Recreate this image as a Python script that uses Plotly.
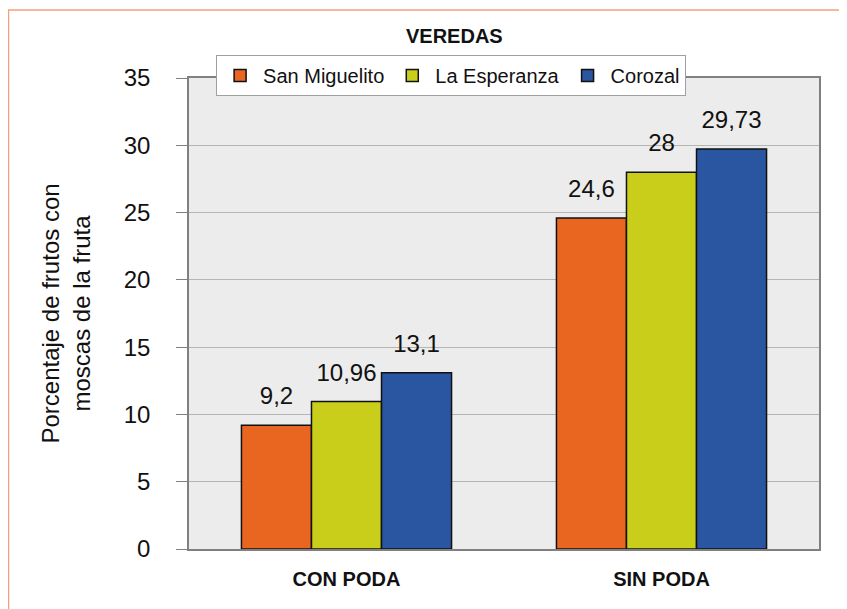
import plotly.graph_objects as go

categories = ["CON PODA", "SIN PODA"]
series_names = ["San Miguelito", "La Esperanza", "Corozal"]
san_miguelito = [9.2, 24.6]
la_esperanza = [10.96, 28]
corozal = [13.1, 29.73]
labels_san_miguelito = ["9,2", "24,6"]
labels_la_esperanza = ["10,96", "28"]
labels_corozal = ["13,1", "29,73"]
y_ticks = [0, 5, 10, 15, 20, 25, 30, 35]

colors = ["#E8661F", "#C9CE1A", "#2A55A0"]
values = [san_miguelito, la_esperanza, corozal]
labels = [labels_san_miguelito, labels_la_esperanza, labels_corozal]

FONT = "Liberation Sans, Arial, sans-serif"

fig = go.Figure()
for i, (name, vals, col) in enumerate(zip(series_names, values, colors)):
    fig.add_trace(go.Bar(
        name=name, x=categories, y=vals,
        offsetgroup=str(i), alignmentgroup="g",
        marker=dict(color=col, line=dict(color="#111111", width=1.5)),
    ))
for i, (vals, labs) in enumerate(zip(values, labels)):
    fig.add_trace(go.Scatter(
        x=categories, y=vals, text=labs, mode="markers+text",
        offsetgroup=str(i), alignmentgroup="g",
        textposition="top center", cliponaxis=False,
        marker=dict(size=22, opacity=0),
        textfont=dict(size=24, color="#111111", family=FONT),
        showlegend=False, hoverinfo="skip",
    ))

fig.update_layout(
    width=839, height=601,
    margin=dict(l=181, r=28, t=70, b=60),
    paper_bgcolor="white", plot_bgcolor="#EBECEB",
    barmode="group", bargap=0.333, bargroupgap=0,
    scattermode="group", scattergap=0.333,
    font=dict(family=FONT, color="#111111"),
    showlegend=True,
    legend=dict(
        orientation="h", x=0.043, y=1.049, xanchor="left", yanchor="top",
        bgcolor="white", bordercolor="#A0A0A0", borderwidth=1,
        font=dict(size=20, family=FONT, color="#111111"),
        itemwidth=36, tracegroupgap=0,
    ),
    xaxis=dict(
        showline=True, linecolor="#808080", linewidth=1.5, mirror=True,
        ticks="", tickfont=dict(size=20, family=FONT, color="#111111"),
        ticklabelstandoff=11,
        tickvals=categories, ticktext=["<b>%s</b>" % c for c in categories],
    ),
    yaxis=dict(
        range=[0, 35], tickvals=y_ticks,
        showline=True, linecolor="#808080", linewidth=1.5, mirror=True,
        ticks="outside", ticklen=11, tickcolor="#808080", tickwidth=1.2,
        showgrid=True, gridcolor="#B5B5B5", gridwidth=1.2,
        zeroline=False,
        tickfont=dict(size=24, family=FONT, color="#111111"),
        ticklabelstandoff=21,
        title=dict(text="Porcentaje de frutos con<br>moscas de la fruta",
                   font=dict(size=24, family=FONT, color="#111111"), standoff=26),
    ),
    annotations=[dict(
        text="<b>VEREDAS</b>", x=0.422, y=1.089, xref="paper", yref="paper",
        xanchor="center", yanchor="middle", showarrow=False,
        font=dict(size=20, family=FONT, color="#111111"),
    )],
    shapes=[dict(
        type="path", xref="paper", yref="paper",
        path="M -0.2865,-0.2 L -0.2865,1.1444 L 1.041,1.1444",
        line=dict(color="#F4A080", width=1.5),
    )],
)

fig.write_html("out.html")
